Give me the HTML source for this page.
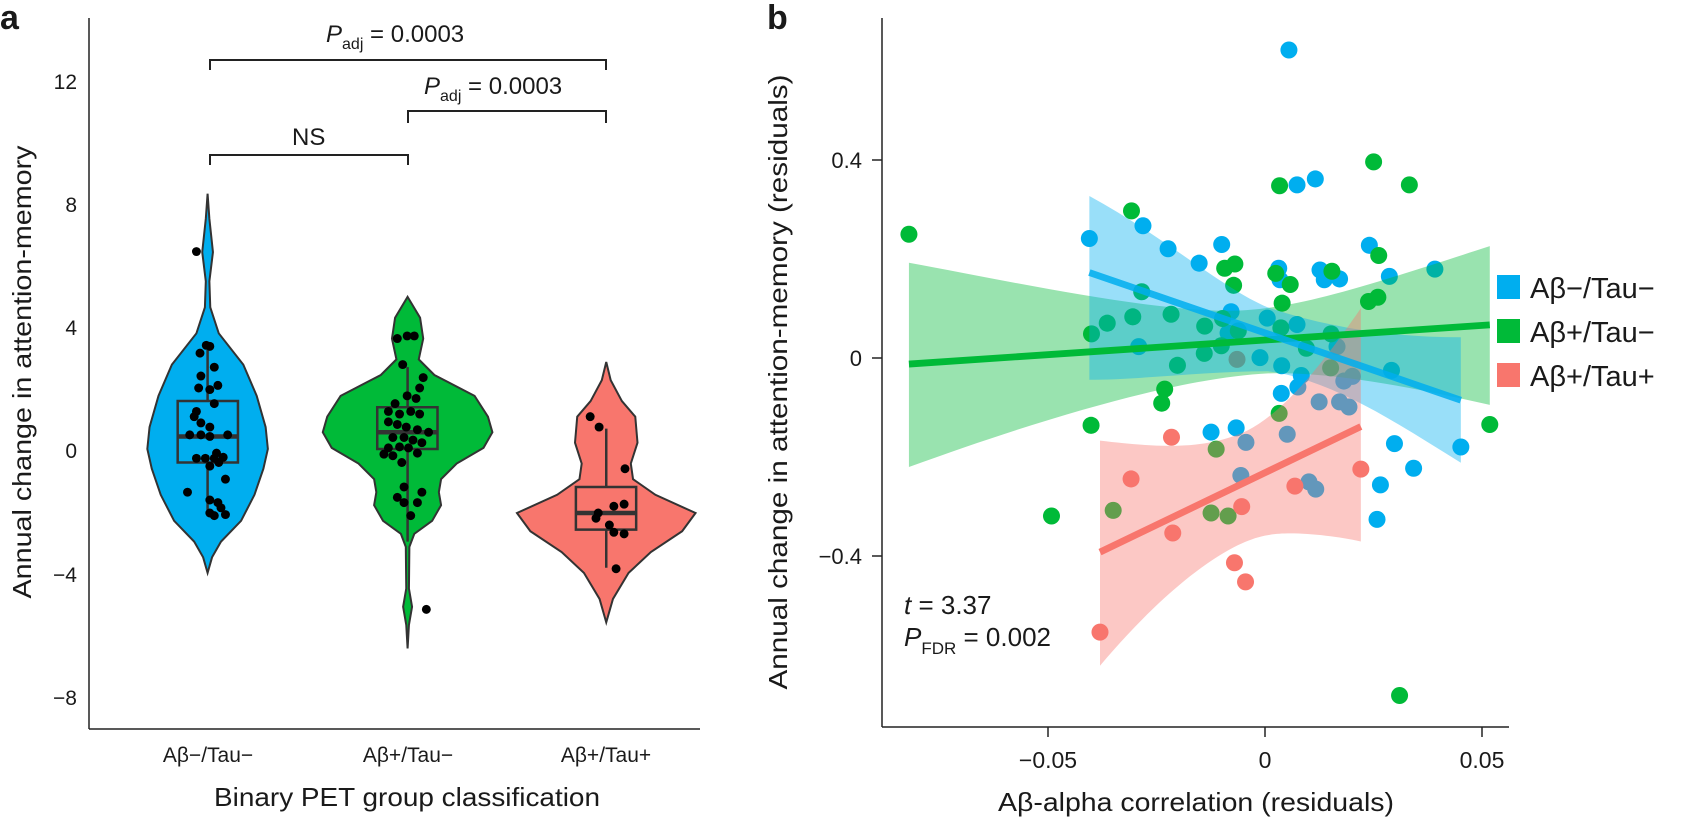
<!DOCTYPE html>
<html><head><meta charset="utf-8"><style>
html,body{margin:0;padding:0;background:#fff;width:1682px;height:817px;overflow:hidden}
svg{display:block}
text{font-family:"Liberation Sans",sans-serif;fill:#1a1a1a}
</style></head><body>
<svg width="1682" height="817" viewBox="0 0 1682 817" xmlns="http://www.w3.org/2000/svg">
<!-- Panel a -->
<text x="0" y="29" font-size="34" font-weight="bold">a</text>
<line x1="89" y1="18" x2="89" y2="729" stroke="#222" stroke-width="1.5"/>
<line x1="89" y1="729" x2="700" y2="729" stroke="#222" stroke-width="1.5"/>
<g font-size="21" text-anchor="end">
<text x="77" y="89">12</text><text x="77" y="212">8</text><text x="77" y="335">4</text>
<text x="77" y="458">0</text><text x="77" y="582">−4</text><text x="77" y="705">−8</text>
</g>
<g font-size="21" text-anchor="middle">
<text x="208" y="762">Aβ−/Tau−</text><text x="408" y="762">Aβ+/Tau−</text><text x="606" y="762">Aβ+/Tau+</text>
</g>
<text x="407" y="806" font-size="26" text-anchor="middle" textLength="386" lengthAdjust="spacingAndGlyphs">Binary PET group classification</text>
<text transform="translate(31,372) rotate(-90)" font-size="26" text-anchor="middle" textLength="453" lengthAdjust="spacingAndGlyphs">Annual change in attention-memory</text>
<!-- brackets -->
<g fill="none" stroke="#222" stroke-width="2">
<path d="M210,70 V60 H606 V70"/>
<path d="M408,123 V111 H606 V123"/>
<path d="M210,165 V155 H408 V165"/>
</g>
<text x="326" y="42" font-size="24"><tspan font-style="italic">P</tspan><tspan font-size="16" dy="7">adj</tspan><tspan dy="-7"> = 0.0003</tspan></text>
<text x="424" y="94" font-size="24"><tspan font-style="italic">P</tspan><tspan font-size="16" dy="7">adj</tspan><tspan dy="-7"> = 0.0003</tspan></text>
<text x="292" y="145" font-size="24">NS</text>
<g transform="scale(0.44643,0.52083)">
<g stroke="#333" stroke-width="2" vector-effect="non-scaling-stroke">
<polygon vector-effect="non-scaling-stroke" fill="#00AEEF" points="465,372 469,420 477,484 469,540 471,590 490,640 545,700 575,760 595,820 600,862 590,900 570,950 540,1000 495,1040 475,1070 465,1100 455,1070 435,1040 390,1000 360,950 340,900 330,862 335,820 355,760 385,700 440,640 459,590 461,540 453,484 461,420"/>
<polygon vector-effect="non-scaling-stroke" fill="#00BA38" points="913,570 941,610 948,650 938,690 973,720 1063,760 1093,800 1103,830 1083,860 1023,890 988,920 983,945 988,970 968,1000 928,1025 917,1050 916,1130 923,1165 916,1200 913,1245 910,1200 903,1165 910,1130 909,1050 898,1025 858,1000 838,970 843,945 838,920 803,890 743,860 723,830 733,800 763,760 853,720 888,690 878,650 885,610"/>
<polygon vector-effect="non-scaling-stroke" fill="#F8766D" points="1358,695 1368,730 1393,770 1423,800 1428,850 1413,890 1418,920 1468,950 1558,985 1528,1020 1458,1060 1408,1100 1373,1150 1358,1195 1343,1150 1308,1100 1258,1060 1188,1020 1158,985 1248,950 1298,920 1303,890 1288,850 1293,800 1323,770 1348,730"/>
</g>
<g fill="none" stroke="#333" stroke-width="2.5">
<path vector-effect="non-scaling-stroke" d="M465,672 V770 M465,888 V990"/>
<rect vector-effect="non-scaling-stroke" x="398" y="770" width="135" height="118"/>
<path vector-effect="non-scaling-stroke" d="M913,705 V782 M913,862 V1040"/>
<rect vector-effect="non-scaling-stroke" x="845" y="782" width="135" height="80"/>
<path vector-effect="non-scaling-stroke" d="M1358,823 V935 M1358,1017 V1090"/>
<rect vector-effect="non-scaling-stroke" x="1290" y="935" width="135" height="82"/>
</g>
<g stroke="#333" stroke-width="4.5">
<line vector-effect="non-scaling-stroke" x1="398" y1="838" x2="533" y2="838"/>
<line vector-effect="non-scaling-stroke" x1="845" y1="830" x2="980" y2="830"/>
<line vector-effect="non-scaling-stroke" x1="1290" y1="985" x2="1425" y2="985"/>
</g>
<g fill="#000">
<ellipse cx="440" cy="483" rx="10" ry="8.6"/><ellipse cx="462" cy="663" rx="10" ry="8.6"/><ellipse cx="470" cy="665" rx="10" ry="8.6"/><ellipse cx="448" cy="678" rx="10" ry="8.6"/><ellipse cx="480" cy="705" rx="10" ry="8.6"/><ellipse cx="450" cy="722" rx="10" ry="8.6"/><ellipse cx="445" cy="745" rx="10" ry="8.6"/><ellipse cx="470" cy="748" rx="10" ry="8.6"/><ellipse cx="488" cy="740" rx="10" ry="8.6"/><ellipse cx="480" cy="775" rx="10" ry="8.6"/><ellipse cx="440" cy="790" rx="10" ry="8.6"/><ellipse cx="435" cy="800" rx="10" ry="8.6"/><ellipse cx="450" cy="812" rx="10" ry="8.6"/><ellipse cx="470" cy="820" rx="10" ry="8.6"/><ellipse cx="425" cy="835" rx="10" ry="8.6"/><ellipse cx="450" cy="835" rx="10" ry="8.6"/><ellipse cx="470" cy="838" rx="10" ry="8.6"/><ellipse cx="510" cy="835" rx="10" ry="8.6"/><ellipse cx="440" cy="880" rx="10" ry="8.6"/><ellipse cx="460" cy="880" rx="10" ry="8.6"/><ellipse cx="480" cy="880" rx="10" ry="8.6"/><ellipse cx="490" cy="888" rx="10" ry="8.6"/><ellipse cx="500" cy="878" rx="10" ry="8.6"/><ellipse cx="485" cy="870" rx="10" ry="8.6"/><ellipse cx="470" cy="895" rx="10" ry="8.6"/><ellipse cx="505" cy="920" rx="10" ry="8.6"/><ellipse cx="420" cy="945" rx="10" ry="8.6"/><ellipse cx="470" cy="960" rx="10" ry="8.6"/><ellipse cx="488" cy="965" rx="10" ry="8.6"/><ellipse cx="495" cy="975" rx="10" ry="8.6"/><ellipse cx="480" cy="990" rx="10" ry="8.6"/><ellipse cx="470" cy="985" rx="10" ry="8.6"/><ellipse cx="505" cy="988" rx="10" ry="8.6"/>
<ellipse cx="890" cy="650" rx="10" ry="8.6"/><ellipse cx="912" cy="645" rx="10" ry="8.6"/><ellipse cx="928" cy="645" rx="10" ry="8.6"/><ellipse cx="902" cy="700" rx="10" ry="8.6"/><ellipse cx="948" cy="725" rx="10" ry="8.6"/><ellipse cx="940" cy="745" rx="10" ry="8.6"/><ellipse cx="912" cy="760" rx="10" ry="8.6"/><ellipse cx="932" cy="765" rx="10" ry="8.6"/><ellipse cx="885" cy="775" rx="10" ry="8.6"/><ellipse cx="870" cy="790" rx="10" ry="8.6"/><ellipse cx="895" cy="795" rx="10" ry="8.6"/><ellipse cx="920" cy="790" rx="10" ry="8.6"/><ellipse cx="940" cy="795" rx="10" ry="8.6"/><ellipse cx="870" cy="810" rx="10" ry="8.6"/><ellipse cx="890" cy="815" rx="10" ry="8.6"/><ellipse cx="910" cy="820" rx="10" ry="8.6"/><ellipse cx="935" cy="825" rx="10" ry="8.6"/><ellipse cx="960" cy="830" rx="10" ry="8.6"/><ellipse cx="880" cy="840" rx="10" ry="8.6"/><ellipse cx="905" cy="840" rx="10" ry="8.6"/><ellipse cx="925" cy="845" rx="10" ry="8.6"/><ellipse cx="945" cy="850" rx="10" ry="8.6"/><ellipse cx="870" cy="860" rx="10" ry="8.6"/><ellipse cx="895" cy="858" rx="10" ry="8.6"/><ellipse cx="915" cy="860" rx="10" ry="8.6"/><ellipse cx="860" cy="872" rx="10" ry="8.6"/><ellipse cx="880" cy="875" rx="10" ry="8.6"/><ellipse cx="900" cy="888" rx="10" ry="8.6"/><ellipse cx="935" cy="870" rx="10" ry="8.6"/><ellipse cx="905" cy="935" rx="10" ry="8.6"/><ellipse cx="945" cy="945" rx="10" ry="8.6"/><ellipse cx="890" cy="955" rx="10" ry="8.6"/><ellipse cx="905" cy="965" rx="10" ry="8.6"/><ellipse cx="935" cy="965" rx="10" ry="8.6"/><ellipse cx="920" cy="990" rx="10" ry="8.6"/><ellipse cx="955" cy="1170" rx="10" ry="8.6"/>
<ellipse cx="1322" cy="800" rx="10" ry="8.6"/><ellipse cx="1342" cy="820" rx="10" ry="8.6"/><ellipse cx="1400" cy="900" rx="10" ry="8.6"/><ellipse cx="1375" cy="972" rx="10" ry="8.6"/><ellipse cx="1398" cy="968" rx="10" ry="8.6"/><ellipse cx="1340" cy="985" rx="10" ry="8.6"/><ellipse cx="1335" cy="995" rx="10" ry="8.6"/><ellipse cx="1365" cy="1008" rx="10" ry="8.6"/><ellipse cx="1375" cy="1022" rx="10" ry="8.6"/><ellipse cx="1398" cy="1025" rx="10" ry="8.6"/><ellipse cx="1380" cy="1092" rx="10" ry="8.6"/>
</g>
</g>

<!-- Panel b -->
<text x="767" y="29" font-size="34" font-weight="bold">b</text>
<text transform="translate(787,382) rotate(-90)" font-size="26" text-anchor="middle" textLength="615" lengthAdjust="spacingAndGlyphs">Annual change in attention-memory (residuals)</text>
<line x1="882" y1="18" x2="882" y2="727" stroke="#222" stroke-width="1.5"/>
<line x1="882" y1="727" x2="1509" y2="727" stroke="#222" stroke-width="1.5"/>
<g stroke="#222" stroke-width="1.5">
<line x1="872" y1="160" x2="882" y2="160"/><line x1="872" y1="358" x2="882" y2="358"/><line x1="872" y1="556" x2="882" y2="556"/>
<line x1="1048" y1="727" x2="1048" y2="737"/><line x1="1265" y1="727" x2="1265" y2="737"/><line x1="1482" y1="727" x2="1482" y2="737"/>
</g>
<g font-size="22" text-anchor="end">
<text x="862" y="168">0.4</text><text x="862" y="366">0</text><text x="862" y="564">−0.4</text>
</g>
<g font-size="23" text-anchor="middle">
<text x="1048" y="768">−0.05</text><text x="1265" y="768">0</text><text x="1482" y="768">0.05</text>
</g>
<text x="1196" y="811" font-size="26" text-anchor="middle" textLength="396" lengthAdjust="spacingAndGlyphs">Aβ-alpha correlation (residuals)</text>
<g transform="translate(800,150) scale(0.42553)">
<g fill="#00AEEF">
<circle cx="1149" cy="-235" r="20"/><circle cx="680" cy="208" r="20"/><circle cx="806" cy="178" r="20"/><circle cx="865" cy="232" r="20"/><circle cx="938" cy="266" r="20"/><circle cx="991" cy="222" r="20"/><circle cx="1125" cy="278" r="20"/><circle cx="1128" cy="305" r="20"/><circle cx="1168" cy="82" r="20"/><circle cx="1211" cy="68" r="20"/><circle cx="1338" cy="224" r="20"/><circle cx="1385" cy="297" r="20"/><circle cx="1492" cy="280" r="20"/><circle cx="1222" cy="282" r="20"/><circle cx="1232" cy="305" r="20"/><circle cx="1268" cy="303" r="20"/><circle cx="1013" cy="380" r="20"/><circle cx="1131" cy="572" r="20"/><circle cx="966" cy="663" r="20"/><circle cx="1025" cy="653" r="20"/><circle cx="1048" cy="687" r="20"/><circle cx="1145" cy="668" r="20"/><circle cx="1036" cy="765" r="20"/><circle cx="1170" cy="557" r="20"/><circle cx="1178" cy="530" r="20"/><circle cx="1220" cy="592" r="20"/><circle cx="1268" cy="592" r="20"/><circle cx="1290" cy="604" r="20"/><circle cx="1278" cy="543" r="20"/><circle cx="1298" cy="532" r="20"/><circle cx="1397" cy="690" r="20"/><circle cx="1442" cy="748" r="20"/><circle cx="1364" cy="787" r="20"/><circle cx="1356" cy="868" r="20"/><circle cx="1553" cy="698" r="20"/><circle cx="1196" cy="780" r="20"/><circle cx="1212" cy="797" r="20"/><circle cx="1132" cy="507" r="20"/><circle cx="1081" cy="488" r="20"/><circle cx="1098" cy="395" r="20"/><circle cx="1168" cy="410" r="20"/><circle cx="1262" cy="462" r="20"/><circle cx="1390" cy="518" r="20"/><circle cx="796" cy="462" r="20"/><circle cx="1006" cy="430" r="20"/>
</g>
<g fill="#00BA38">
<circle cx="256" cy="198" r="20"/><circle cx="779" cy="143" r="20"/><circle cx="1127" cy="84" r="20"/><circle cx="1348" cy="28" r="20"/><circle cx="1432" cy="82" r="20"/><circle cx="998" cy="278" r="20"/><circle cx="1022" cy="268" r="20"/><circle cx="1019" cy="318" r="20"/><circle cx="1118" cy="290" r="20"/><circle cx="1152" cy="316" r="20"/><circle cx="1250" cy="285" r="20"/><circle cx="1360" cy="248" r="20"/><circle cx="1336" cy="356" r="20"/><circle cx="1358" cy="346" r="20"/><circle cx="1133" cy="360" r="20"/><circle cx="803" cy="333" r="20"/><circle cx="722" cy="407" r="20"/><circle cx="782" cy="392" r="20"/><circle cx="872" cy="386" r="20"/><circle cx="685" cy="432" r="20"/><circle cx="951" cy="414" r="20"/><circle cx="993" cy="396" r="20"/><circle cx="1130" cy="418" r="20"/><circle cx="1030" cy="425" r="20"/><circle cx="950" cy="478" r="20"/><circle cx="990" cy="460" r="20"/><circle cx="1248" cy="432" r="20"/><circle cx="887" cy="506" r="20"/><circle cx="857" cy="562" r="20"/><circle cx="850" cy="595" r="20"/><circle cx="684" cy="647" r="20"/><circle cx="591" cy="860" r="20"/><circle cx="736" cy="847" r="20"/><circle cx="966" cy="853" r="20"/><circle cx="1006" cy="860" r="20"/><circle cx="978" cy="703" r="20"/><circle cx="1126" cy="619" r="20"/><circle cx="1247" cy="512" r="20"/><circle cx="1409" cy="1282" r="20"/><circle cx="1621" cy="645" r="20"/><circle cx="1190" cy="466" r="20"/>
</g>
<g fill="#F8766D">
<circle cx="873" cy="675" r="20"/><circle cx="778" cy="773" r="20"/><circle cx="876" cy="900" r="20"/><circle cx="1038" cy="838" r="20"/><circle cx="1163" cy="790" r="20"/><circle cx="1318" cy="750" r="20"/><circle cx="1021" cy="970" r="20"/><circle cx="1047" cy="1015" r="20"/><circle cx="705" cy="1133" r="20"/><circle cx="1027" cy="492" r="20"/>
</g>
<path fill="#00BA38" fill-opacity="0.4" d="M256,265 C500,310 800,375 1000,378 C1150,378 1300,330 1621,226 L1621,599 C1450,560 1250,520 1100,525 C900,535 600,620 256,745 Z"/>
<path fill="#00AEEF" fill-opacity="0.4" d="M680,108 C850,200 1000,330 1100,370 C1250,420 1400,440 1553,440 L1553,735 C1400,640 1250,540 1100,520 C950,520 800,540 680,540 Z"/>
<path fill="#F8766D" fill-opacity="0.4" d="M705,683 C850,700 950,705 1050,660 C1150,610 1250,470 1318,372 L1318,920 C1250,905 1150,895 1100,905 C1000,920 850,1040 705,1212 Z"/>
<g stroke-width="16" stroke-linecap="butt">
<line x1="256" y1="503" x2="1621" y2="411" stroke="#00BA38"/>
<line x1="680" y1="288" x2="1553" y2="588" stroke="#00AEEF" stroke-opacity="0.85"/>
<line x1="705" y1="945" x2="1318" y2="650" stroke="#F8766D"/>
</g>
</g>
<text x="904" y="614" font-size="26"><tspan font-style="italic">t</tspan> = 3.37</text>
<text x="904" y="646" font-size="26"><tspan font-style="italic">P</tspan><tspan font-size="17" dy="8">FDR</tspan><tspan dy="-8"> = 0.002</tspan></text>
<!-- legend -->
<rect x="1497" y="275" width="23" height="24" fill="#00AEEF"/>
<rect x="1497" y="319" width="23" height="24" fill="#00BA38"/>
<rect x="1497" y="363" width="23" height="24" fill="#F8766D"/>
<g font-size="29">
<text x="1530" y="298">Aβ−/Tau−</text><text x="1530" y="342">Aβ+/Tau−</text><text x="1530" y="386">Aβ+/Tau+</text>
</g>
</svg>
</body></html>
